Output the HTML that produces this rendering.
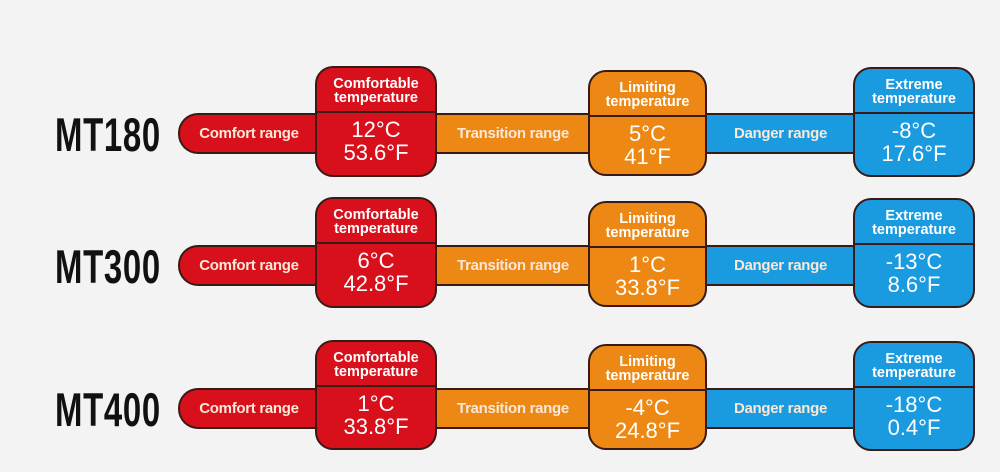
<!DOCTYPE html>
<html><head><meta charset="utf-8"><style>
body{margin:0;width:1000px;height:472px;background:#f3f3f3;position:relative;overflow:hidden;font-family:"Liberation Sans",sans-serif}
.a{position:absolute;box-sizing:border-box}
.bar{height:41px;border:2px solid #3a1a16;color:#fbe8d8;font-weight:bold;font-size:15px;display:flex;align-items:center;justify-content:center;letter-spacing:-0.3px}
.box{border:2.5px solid #3a1a16;border-radius:18px;color:#fff;text-align:center;overflow:hidden}
.box .h{height:45px;border-bottom:2px solid #3a1a16;font-weight:bold;font-size:14.5px;line-height:14px;padding-top:9px;box-sizing:border-box}
.box .v{font-size:22px;line-height:23px;padding-top:5px}
.r{background:#d8101c}.o{background:#ec8813}.b{background:#1a9be0}
.mt{font-weight:bold;font-size:47px;color:#111;transform:scaleX(0.7);transform-origin:left center;letter-spacing:1px}
</style></head><body>

<div class="a mt" style="left:55px;top:107px">MT180</div>
<div class="a bar r" style="left:178px;top:113px;width:140px;border-radius:20px 0 0 20px;border-right:none">Comfort range</div>
<div class="a bar o" style="left:435px;top:113px;width:156px;border-left:none;border-right:none">Transition range</div>
<div class="a bar b" style="left:705px;top:113px;width:151px;border-left:none;border-right:none">Danger range</div>
<div class="a box r" style="left:315px;top:66px;width:122px;height:111px"><div class="h">Comfortable<br>temperature</div><div class="v">12°C<br>53.6°F</div></div>
<div class="a box o" style="left:588px;top:70px;width:119px;height:106px"><div class="h">Limiting<br>temperature</div><div class="v">5°C<br>41°F</div></div>
<div class="a box b" style="left:853px;top:67px;width:122px;height:110px"><div class="h">Extreme<br>temperature</div><div class="v">-8°C<br>17.6°F</div></div>

<div class="a mt" style="left:55px;top:239px">MT300</div>
<div class="a bar r" style="left:178px;top:245px;width:140px;border-radius:20px 0 0 20px;border-right:none">Comfort range</div>
<div class="a bar o" style="left:435px;top:245px;width:156px;border-left:none;border-right:none">Transition range</div>
<div class="a bar b" style="left:705px;top:245px;width:151px;border-left:none;border-right:none">Danger range</div>
<div class="a box r" style="left:315px;top:197px;width:122px;height:111px"><div class="h">Comfortable<br>temperature</div><div class="v">6°C<br>42.8°F</div></div>
<div class="a box o" style="left:588px;top:201px;width:119px;height:106px"><div class="h">Limiting<br>temperature</div><div class="v">1°C<br>33.8°F</div></div>
<div class="a box b" style="left:853px;top:198px;width:122px;height:110px"><div class="h">Extreme<br>temperature</div><div class="v">-13°C<br>8.6°F</div></div>

<div class="a mt" style="left:55px;top:382px">MT400</div>
<div class="a bar r" style="left:178px;top:388px;width:140px;border-radius:20px 0 0 20px;border-right:none">Comfort range</div>
<div class="a bar o" style="left:435px;top:388px;width:156px;border-left:none;border-right:none">Transition range</div>
<div class="a bar b" style="left:705px;top:388px;width:151px;border-left:none;border-right:none">Danger range</div>
<div class="a box r" style="left:315px;top:340px;width:122px;height:110px"><div class="h">Comfortable<br>temperature</div><div class="v">1°C<br>33.8°F</div></div>
<div class="a box o" style="left:588px;top:344px;width:119px;height:106px"><div class="h">Limiting<br>temperature</div><div class="v">-4°C<br>24.8°F</div></div>
<div class="a box b" style="left:853px;top:341px;width:122px;height:110px"><div class="h">Extreme<br>temperature</div><div class="v">-18°C<br>0.4°F</div></div>

</body></html>
